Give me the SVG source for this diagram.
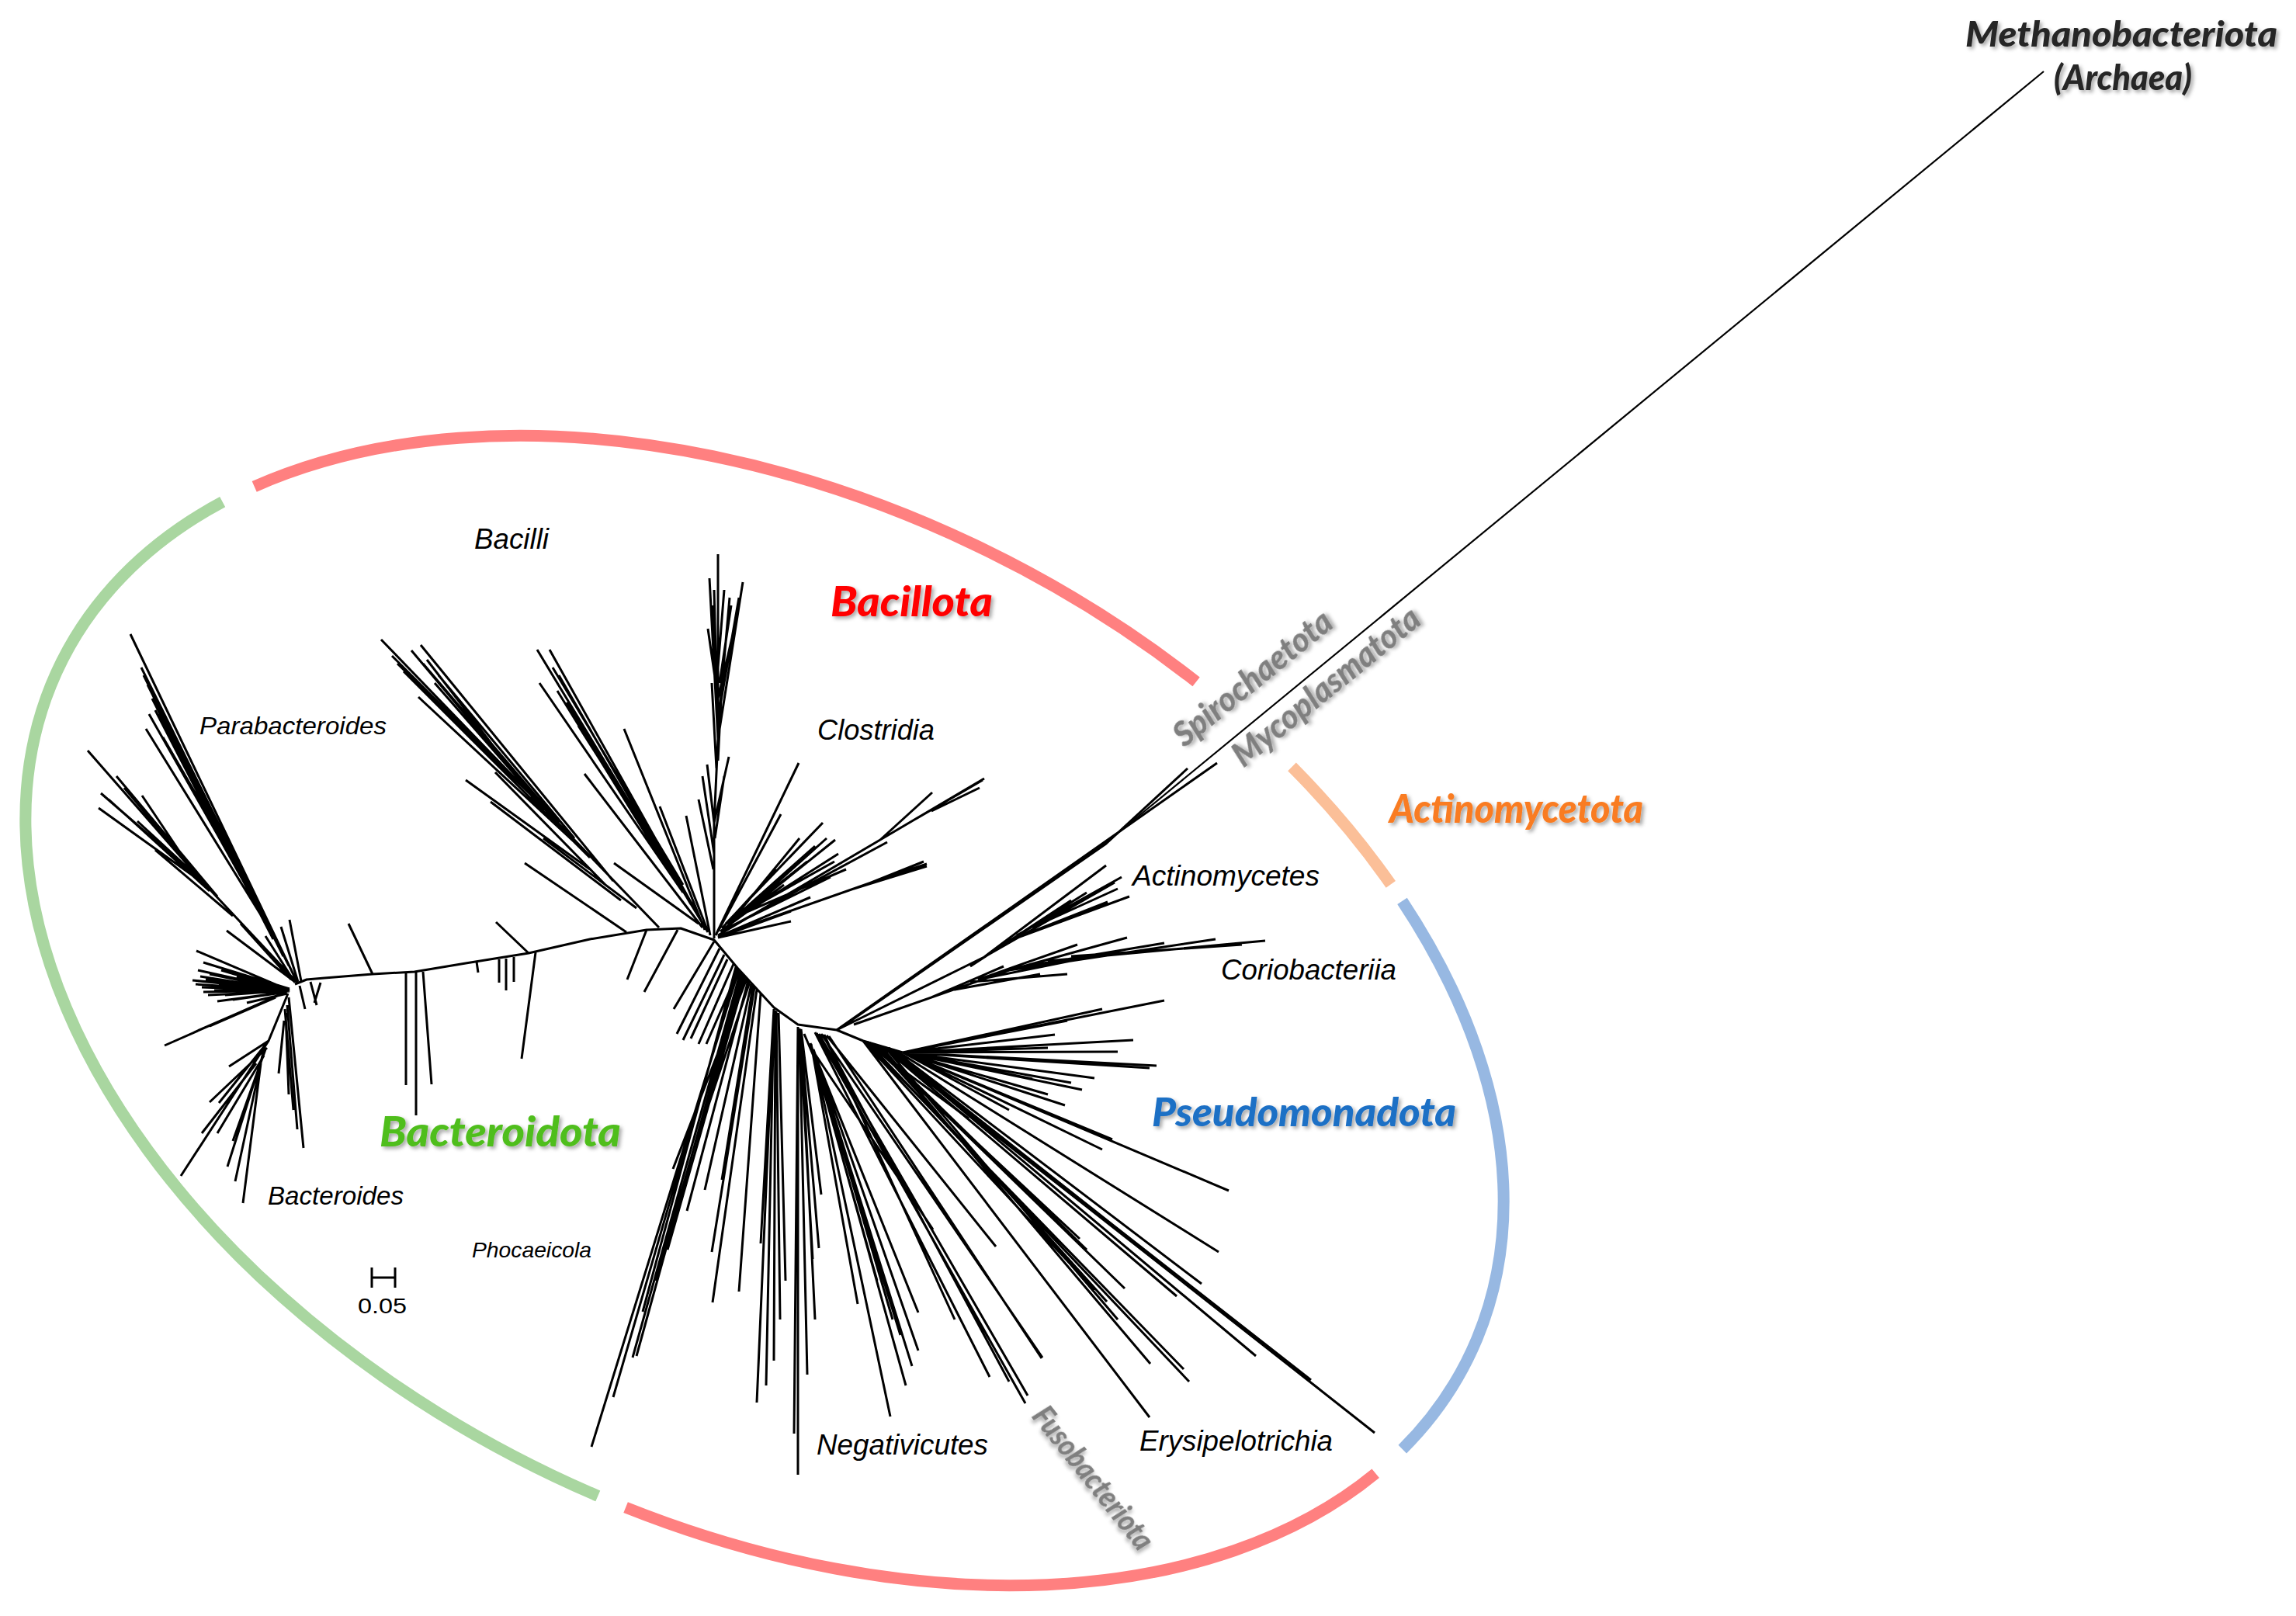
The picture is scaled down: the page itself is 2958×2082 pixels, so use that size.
<svg xmlns="http://www.w3.org/2000/svg" width="2958" height="2082" viewBox="0 0 2958 2082">
<defs>
<filter id="shadow" x="-10%" y="-40%" width="130%" height="190%">
<feDropShadow dx="3" dy="3" stdDeviation="2.5" flood-color="#000" flood-opacity="0.35"/>
</filter>
<style>
.br{fill:none;stroke:#000;stroke-width:3;stroke-linecap:butt;stroke-linejoin:round}
.thin{stroke-width:2.2}
.arc{fill:none;stroke-width:15;stroke-linecap:butt}
.cls{font-family:"Liberation Sans",Arial,sans-serif;font-style:italic;font-size:36px;fill:#000}
.phy{font-family:Lato,"Open Sans",sans-serif;font-style:italic;font-weight:900;filter:url(#shadow)}
.gray{fill:#7F7F7F;font-size:43px}
</style>
</defs>
<rect width="2958" height="2082" fill="#fff"/>

<g id="clade-arcs">
<g id="arc-bacillota-top"><path class="arc" stroke="#FF8080" d="M327.7,626.8 A1011,658 26.3 0 1 1541.1,878.4"/></g>
<g id="arc-actinomycetota"><path class="arc" stroke="#FBBF98" d="M1664.5,987.9 A1011,658 26.3 0 1 1791.8,1139.4"/></g>
<g id="arc-pseudomonadota"><path class="arc" stroke="#97B8E2" d="M1806.5,1160.8 A1011,658 26.3 0 1 1806.8,1867.1"/></g>
<g id="arc-bacillota-bottom"><path class="arc" stroke="#FF8080" d="M1772.2,1898.3 A1011,658 26.3 0 1 806.1,1942.1"/></g>
<g id="arc-bacteroidota"><path class="arc" stroke="#A9D6A0" d="M770.3,1927.3 A1011,658 26.3 0 1 286.7,646.7"/></g>
</g>

<g id="connectors">
<path id="backbone" class="br" d="M380,1268 L395,1262 L418,1260 L480,1255 L534,1252 L600,1241 L681,1228 L760,1210 L833,1198 L877,1196 L920,1211 L950,1247 L997,1298 L1028,1320 L1078,1327 L1112,1341 L1163,1356"/>
<path id="bacteroidota-branches" class="br" d="
M383,1266 L168,817 M372,1244 L182,860 M360,1222 L190,882 M340,1182 L196,900 M346,1195 L188,939 M318,1140 L205,920 M300,1105 L210,950 M330,1165 L255,1030 M352,1210 L200,915 M365,1232 L185,870 M335,1172 L192,920
M383,1266 L260,1135 L113,967 M260,1135 L130,1022 M265,1140 L127,1041 M250,1125 L183,1025 M255,1130 L177,1058 M300,1180 L200,1095 M280,1155 L150,1000 M240,1110 L160,1015 M270,1148 L140,1030
M380,1265 L292,1199 M375,1262 L310,1190 M388,1264 L373,1185 M384,1265 L362,1194 M380,1266 L342,1206
M373,1276 L248,1263 M373,1276 L253,1225 M373,1274 L262,1240 M373,1276 L260,1272 M373,1277 L268,1282 M370,1278 L280,1290 M370,1278 L300,1288 M373,1276 L290,1258 M373,1276 L270,1255 M373,1276 L300,1266 M373,1276 L320,1262 M373,1276 L310,1275 M370,1280 L318,1292 M373,1276 L255,1250 M373,1276 L258,1258 M373,1276 L282,1268 M373,1276 L276,1276 M373,1276 L290,1282 M373,1276 L265,1262 M373,1276 L252,1268 M373,1276 L285,1250 M373,1276 L305,1258 M373,1276 L262,1278 M373,1276 L272,1270
M373,1276 L212,1347 M360,1282 L250,1330 M355,1285 L270,1322 M371,1280 L346,1341 L233,1515 M346,1341 L295,1374 M346,1341 L282,1421 M340,1355 L293,1503 M338,1360 L303,1522 M336,1370 L313,1550 M344,1350 L270,1420 M340,1360 L280,1460 M342,1352 L300,1470 M330,1370 L260,1460
M372,1285 L391,1479 M370,1295 L383,1455 M368,1305 L372,1410 M366,1315 L359,1383 M367,1300 L378,1430
M386,1270 L393,1300 M400,1265 L408,1295 M413,1266 L405,1292
M523,1253 L523,1398 M536,1252 L536,1437 M545,1252 L556,1397 M690,1227 L672,1364 M480,1255 L449,1190 M681,1228 L639,1188 M614,1239 L616,1253 M643,1236 L643,1266 M652,1235 L652,1276 M662,1233 L662,1265"/>
<path id="bacilli-branches" class="br" d="
M849,1195 L491,824 M790,1135 L542,831 M760,1105 L520,865 M740,1085 L539,898 M720,1063 L560,880 M700,1045 L550,850 M680,1020 L505,845 M700,1040 L530,838 M720,1060 L545,855 M690,1030 L525,870 M760,1120 L600,1005 M780,1140 L638,995 M800,1160 L632,1033 M820,1170 L700,1080 M807,1201 L676,1112 M740,1080 L565,870 M660,1000 L512,855
M912,1201 L692,837 M900,1180 L708,837 M880,1150 L695,880 M860,1120 L718,890 M870,1135 L730,905 M850,1100 L745,935 M890,1165 L720,870 M905,1195 L753,997 M908,1198 L804,939 M915,1205 L884,1051 M900,1190 L791,1112 M912,1200 L850,1039 M880,1140 L712,860 M895,1170 L740,920
M920,1209 L920,1060 L925,952 L925,714 M925,952 L957,750 M925,952 L914,745 M925,940 L940,770 M925,930 L918,780 M925,900 L948,800 M925,900 L912,810 M925,860 L933,760 M925,980 L930,880 M923,990 L917,880 M926,920 L952,770 M924,920 L920,760 M927,880 L942,780 M920,1060 L911,985 M920,1060 L939,975 M920,1100 L905,1000 M921,1080 L933,1000 M919,1120 L900,1030
M833,1198 L808,1262 M873,1198 L830,1278"/>
<path id="clostridia-branches" class="br" d="
M922,1205 L1029,983 M925,1200 L1006,1049 M925,1205 L1134,1082 L1268,1003 M1134,1082 L1201,1021 M1180,1055 L1266,1005 M1200,1045 L1262,1015 M930,1200 L1143,1085 M935,1195 L1076,1082 M926,1206 L1134,1133 L1194,1113 M1100,1145 L1194,1116 M1120,1138 L1190,1110 M925,1207 L1044,1156 M925,1208 L1019,1174 M925,1208 L1019,1187
M935,1190 L1060,1060 M940,1188 L1050,1090 M945,1185 L1040,1110 M950,1180 L1075,1110 M955,1178 L1090,1120 M930,1196 L1000,1120 M928,1200 L1010,1140 M938,1192 L1030,1080 M942,1190 L1065,1080 M948,1184 L1080,1100 M932,1198 L1070,1130"/>
<path id="lower-branches" class="br" d="
M920,1213 L868,1300 M927,1222 L872,1332 M933,1230 L880,1340 M937,1236 L890,1338 M945,1242 L900,1345 M952,1249 L910,1345
M952,1249 L762,1864 M950,1248 L790,1800 M954,1252 L815,1749 M956,1254 L820,1747 M948,1246 L828,1690 M958,1256 L845,1650 M960,1258 L860,1610 M962,1261 L867,1506 M966,1265 L898,1468 M968,1268 L908,1533 M972,1272 L917,1613 M975,1275 L918,1678 M980,1280 L952,1664 M970,1270 L930,1520 M964,1263 L885,1560
M997,1300 L975,1807 M997,1300 L987,1785 M999,1302 L997,1753 M997,1300 L980,1602 M1000,1303 L1005,1700 M1003,1305 L1012,1650
M1028,1323 L1028,1900 M1028,1323 L1023,1847 M1030,1325 L1040,1771 M1031,1326 L1055,1608 M1032,1326 L1058,1539 M1030,1325 L1047,1622 M1032,1326 L1050,1700
M1050,1365 L1147,1825 M1036,1332 L1050,1365 M1045,1345 L1105,1680 M1048,1352 L1183,1740 M1046,1350 L1167,1785 M1048,1354 L1183,1691 M1050,1358 L1202,1584 M1047,1352 L1160,1720 M1049,1356 L1175,1760 M1044,1344 L1130,1650 M1050,1360 L1150,1700
M1050,1330 L1275,1774 M1052,1331 L1321,1808 M1055,1332 L1324,1798 M1058,1332 L1343,1749 M1062,1333 L1230,1700 M1065,1334 L1283,1606 M1068,1335 L1342,1750 M1060,1333 L1300,1780
M1112,1341 L1481,1826 M1112,1341 L1410,1662 M1115,1342 L1525,1764 M1117,1342 L1532,1780 M1120,1343 L1391,1596 M1125,1345 L1449,1660 M1128,1346 L1426,1677 M1140,1349 L1771,1846 M1145,1351 L1618,1747 M1150,1352 L1548,1654 M1155,1354 L1570,1613 M1135,1348 L1482,1757 M1138,1349 L1516,1670 M1142,1350 L1689,1778 M1145,1350 L1670,1765 M1130,1347 L1400,1610 M1138,1349 L1700,1790 M1140,1349 L1440,1700"/>
<path id="pseudomonadota-branches" class="br" d="
M1163,1356 L1500,1289 M1163,1356 L1308,1325 M1163,1356 L1375,1315 M1163,1356 L1359,1333 M1163,1356 L1490,1373 M1163,1356 L1481,1376 M1163,1356 L1410,1389 M1163,1356 L1394,1404 M1163,1356 L1372,1424 M1112,1341 L1248,1441 M1163,1356 L1433,1468 M1163,1356 L1420,1481 M1163,1356 L1583,1534 M1163,1356 L1350,1350 M1163,1356 L1440,1355 M1163,1356 L1330,1390 M1163,1356 L1300,1430 M1163,1356 L1460,1340 M1163,1356 L1420,1300 M1163,1356 L1400,1370 M1163,1356 L1380,1395 M1163,1356 L1350,1410"/>
<path id="actinomycetota-branches" class="br" d="
M1078,1327 L1568,983 M1080,1326 L1425,1087 L1530,990 M1082,1325 L1420,1090
M1078,1327 L1268,1233 L1425,1115 M1268,1233 L1436,1137 M1300,1212 L1455,1155 M1300,1212 L1427,1162 M1330,1195 L1440,1145 M1250,1245 L1380,1160 M1280,1225 L1400,1150 M1310,1205 L1445,1130
M1100,1320 L1300,1250 L1452,1208 M1300,1250 L1566,1210 M1350,1238 L1630,1212 M1380,1232 L1600,1217 M1260,1262 L1388,1217 M1250,1265 L1375,1255 M1270,1260 L1394,1235 M1200,1285 L1293,1245 M1230,1275 L1340,1255 M1320,1245 L1500,1215"/>
<path id="archaea-branch" class="br thin" d="M1420,1090 L2633,92"/>
</g>

<g id="scale-bar">
<path class="br" d="M479,1646 L509,1646 M479,1633 L479,1659 M509,1633 L509,1659"/>
<text x="461" y="1692" font-family="Liberation Sans, Arial, sans-serif" font-size="28" textLength="63" lengthAdjust="spacingAndGlyphs">0.05</text>
</g>

<g id="class-labels">
<g id="label-bacilli"><text class="cls" x="611" y="707" textLength="96" lengthAdjust="spacingAndGlyphs">Bacilli</text></g>
<g id="label-parabacteroides"><text class="cls" x="257" y="946" style="font-size:32px" textLength="241" lengthAdjust="spacingAndGlyphs">Parabacteroides</text></g>
<g id="label-clostridia"><text class="cls" x="1053" y="953" textLength="151" lengthAdjust="spacingAndGlyphs">Clostridia</text></g>
<g id="label-actinomycetes"><text class="cls" x="1459" y="1141" textLength="241" lengthAdjust="spacingAndGlyphs">Actinomycetes</text></g>
<g id="label-coriobacteriia"><text class="cls" x="1573" y="1262" textLength="226" lengthAdjust="spacingAndGlyphs">Coriobacteriia</text></g>
<g id="label-negativicutes"><text class="cls" x="1052" y="1874" textLength="221" lengthAdjust="spacingAndGlyphs">Negativicutes</text></g>
<g id="label-erysipelotrichia"><text class="cls" x="1468" y="1869" textLength="249" lengthAdjust="spacingAndGlyphs">Erysipelotrichia</text></g>
<g id="label-bacteroides"><text class="cls" x="345" y="1552" style="font-size:33px" textLength="175" lengthAdjust="spacingAndGlyphs">Bacteroides</text></g>
<g id="label-phocaeicola"><text class="cls" x="608" y="1620" style="font-size:28px" textLength="154" lengthAdjust="spacingAndGlyphs">Phocaeicola</text></g>
</g>

<g id="phylum-labels">
<g id="label-bacillota"><text class="phy" x="1070" y="794" font-size="54" fill="#FF0000" textLength="209" lengthAdjust="spacingAndGlyphs">Bacillota</text></g>
<g id="label-bacteroidota"><text class="phy" x="489" y="1477" font-size="54" fill="#4FBE1C" textLength="311" lengthAdjust="spacingAndGlyphs">Bacteroidota</text></g>
<g id="label-pseudomonadota"><text class="phy" x="1484" y="1451" font-size="52" fill="#1F6FC5" textLength="392" lengthAdjust="spacingAndGlyphs">Pseudomonadota</text></g>
<g id="label-actinomycetota"><text class="phy" x="1790" y="1060" font-size="52" fill="#F97B20" textLength="327" lengthAdjust="spacingAndGlyphs">Actinomycetota</text></g>
<g id="label-methanobacteriota"><text class="phy" x="2532" y="60" font-size="45" fill="#262626" textLength="402" lengthAdjust="spacingAndGlyphs">Methanobacteriota</text>
<text class="phy" x="2646" y="116" font-size="45" fill="#262626" textLength="178" lengthAdjust="spacingAndGlyphs">(Archaea)</text></g>
<g id="label-spirochaetota"><text class="phy gray" x="1526" y="964" transform="rotate(-39 1526 964)" textLength="250" lengthAdjust="spacingAndGlyphs">Spirochaetota</text></g>
<g id="label-mycoplasmatota"><text class="phy gray" x="1602" y="990" transform="rotate(-39 1602 990)" textLength="298" lengthAdjust="spacingAndGlyphs">Mycoplasmatota</text></g>
<g id="label-fusobacteriota"><text class="phy gray" x="1328" y="1825" style="font-size:40px" transform="rotate(51.5 1328 1825)" textLength="224" lengthAdjust="spacingAndGlyphs">Fusobacteriota</text></g>
</g>
</svg>
